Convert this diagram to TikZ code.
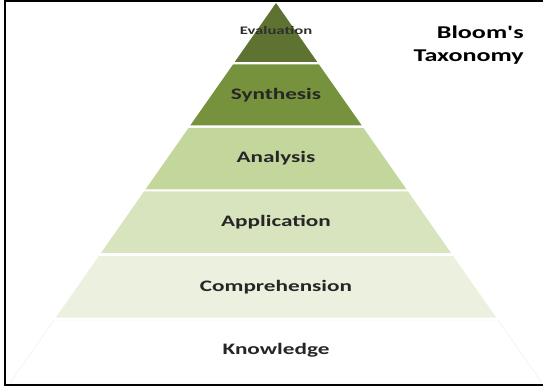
\documentclass[tikz,border=0pt]{standalone}
\usepackage{fontspec}
\setmainfont{Carlito}

\definecolor{evalGreen}{HTML}{5E7332}
\definecolor{synthGreen}{HTML}{76923C}
\definecolor{analGreen}{HTML}{C3D69B}
\definecolor{applGreen}{HTML}{D7E4BD}
\definecolor{compGreen}{HTML}{EBF1DE}
\definecolor{knowEdge}{HTML}{EEEEE4}

\begin{document}
\begin{tikzpicture}[x=1pt,y=-1pt]
			\useasboundingbox (0,0) rectangle (543,390);
			% frame, open on the right
			\draw[line width=2pt] (543,1.5) -- (5,1.5) -- (5,384.5) -- (543,384.5);

			\begin{scope}
				[
					styleLayer/.style={draw=none},
				]
				\fill[evalGreen]  (276,3) -- (317.3,62) -- (234.7,62) -- cycle;
				\fill[synthGreen] (233,64.5) -- (319,64.5) -- (361.8,125.5) -- (190.2,125.5) -- cycle;
				\fill[analGreen]  (188.5,128) -- (363.5,128) -- (406.6,189.5) -- (145.4,189.5) -- cycle;
				\fill[applGreen]  (144,191.5) -- (408,191.5) -- (451,253) -- (101,253) -- cycle;
				\fill[compGreen]  (98.9,256) -- (453.1,256) -- (496.2,317.5) -- (55.8,317.5) -- cycle;
				\draw[knowEdge, fill=white] (54.1,320) -- (497.9,320) -- (542,383) -- (10,383) -- cycle;
			\end{scope}

			\begin{scope}
				[
					styleLevel/.style={
						font=\bfseries\fontsize{16}{19}\selectfont,
						text=black!85, xscale=1.45, inner sep=0pt
						},
					styleTop/.style={
						font=\bfseries\fontsize{11.5}{14}\selectfont,
						text=black!82, xscale=1.45, inner sep=0pt
						},
					styleTitle/.style={
						font=\bfseries\fontsize{18}{23}\selectfont,
						align=right, xscale=1.45, inner sep=0pt
						},
				]
				\node(evaluation)[styleTop] at (276,31) {Evaluation};
				\node(synthesis)[styleLevel] at (276,95) {Synthesis};
				\node(analysis)[styleLevel] at (276,158) {Analysis};
				\node(application)[styleLevel] at (276,222) {Application};
				\node(comprehension)[styleLevel] at (276,287) {Comprehension};
				\node(knowledge)[styleLevel] at (276,350) {Knowledge};

				\node(title)[styleTitle, anchor=north east] at (524,26) {Bloom\textquotesingle s\\Taxonomy};
			\end{scope}
		\end{tikzpicture}
\end{document}
